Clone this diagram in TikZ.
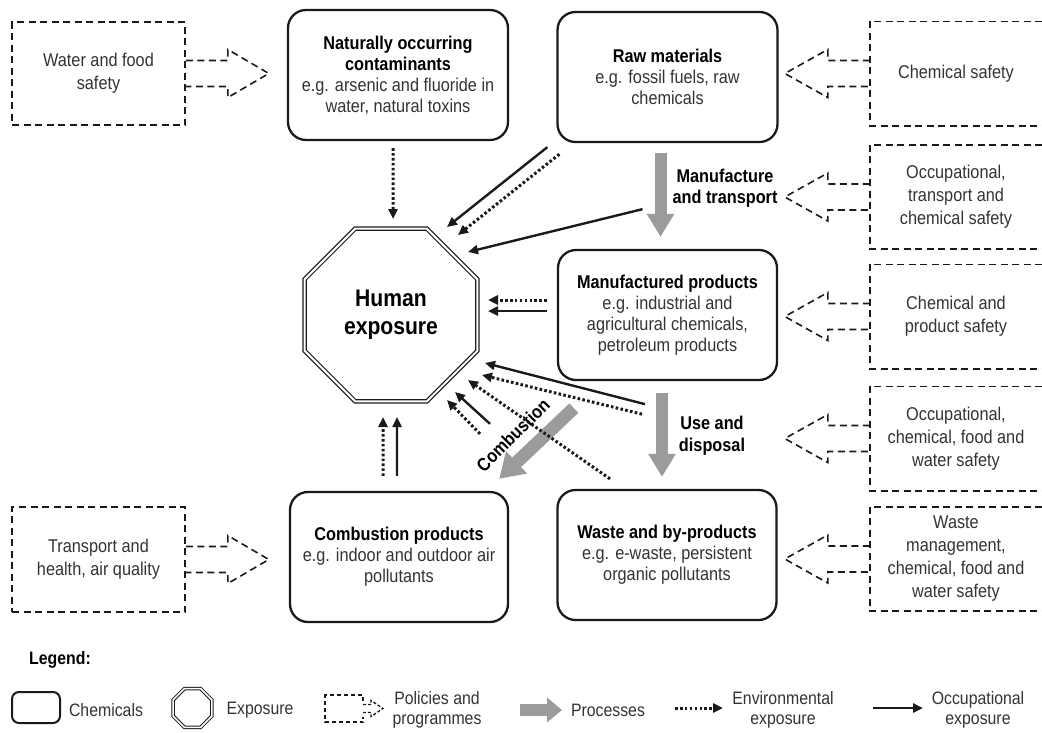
\documentclass[tikz,border=0pt]{standalone}
\usepackage{fontspec}
\setmainfont{Liberation Sans}[FakeStretch=0.88]
\usetikzlibrary{arrows.meta,shapes.geometric,calc}
\definecolor{procgray}{HTML}{9B9B9B}
\definecolor{txtgray}{HTML}{333333}
\definecolor{linek}{HTML}{1A1A1A}
\newcommand\bx[1]{{\color{black}\bfseries #1}}
\begin{document}
\begin{tikzpicture}[x=1pt,y=-1pt,
  chem/.style={draw=linek, line width=2.3pt, rounded corners=18pt, minimum width=220pt, minimum height=130pt, align=center, text=txtgray, font=\fontsize{18.5}{21}\selectfont, inner sep=2pt},
  poltext/.style={align=center, text=txtgray, font=\fontsize{18.5}{23}\selectfont, minimum width=172pt, minimum height=104pt, inner sep=0pt},
  poldash/.style={draw=linek, line width=1.6pt, dash pattern=on 7pt off 4.5pt},
  occ/.style={draw=linek, line width=2.4pt, -{Triangle[length=10pt,width=9pt]}},
  env/.style={draw=linek, line width=3pt, dash pattern=on 2.6pt off 2.3pt, -{Triangle[length=10pt,width=9pt]}},
  proc/.style={draw=procgray, line width=12pt, -{Triangle[length=23pt,width=26pt]}},
  lbl/.style={align=center, font=\fontsize{18.5}{21}\selectfont\bfseries, text=black},
  legtext/.style={align=center, text=txtgray, font=\fontsize{18}{20}\selectfont}
]
\useasboundingbox (0,0) rectangle (1042,732);

% chemical boxes
\node[chem] (nat) at (398,75) {\bx{Naturally occurring}\\\bx{contaminants}\\e.g. arsenic and fluoride in\\water, natural toxins};
\node[chem] (raw) at (667.5,77) {\bx{Raw materials}\\e.g. fossil fuels, raw\\chemicals};
\node[chem, minimum width=219pt] (man) at (667.5,315) {\bx{Manufactured products}\\e.g. industrial and\\agricultural chemicals,\\petroleum products};
\node[chem, minimum width=218pt] (comb) at (399,557) {\bx{Combustion products}\\e.g. indoor and outdoor air\\pollutants};
\node[chem, minimum width=219pt] (waste) at (667,555) {\bx{Waste and by-products}\\e.g. e-waste, persistent\\organic pollutants};

% exposure octagon
\node[draw=linek, double=white, double distance=2pt, line width=1.2pt, regular polygon, regular polygon sides=8, minimum size=187pt, inner sep=0pt, align=center, font=\fontsize{24}{28}\selectfont\bfseries] (he) at (391,315) {Human\\exposure};

% policy boxes left
\node[poltext, draw=linek, line width=1.6pt, dash pattern=on 7pt off 4.5pt, minimum width=173pt, minimum height=103pt] (p1) at (98.5,73.5) {Water and food\\safety};
\node[poltext, draw=linek, line width=1.6pt, dash pattern=on 7pt off 4.5pt, minimum width=173pt, minimum height=105pt] (p2) at (98.5,559.5) {Transport and\\health, air quality};

% policy boxes right (cut at right edge)
\node[poltext] (r1) at (956,73.5) {Chemical safety};
\node[poltext] (r2) at (956,197) {Occupational,\\transport and\\chemical safety};
\node[poltext] (r3) at (956,316.5) {Chemical and\\product safety};
\node[poltext] (r4) at (956,438.5) {Occupational,\\chemical, food and\\water safety};
\node[poltext] (r5) at (956,559) {Waste\\management,\\chemical, food and\\water safety};
\foreach \r in {r1,r2,r3,r4,r5}{
  \draw[poldash] (\r.north east) -- (\r.north west) -- (\r.south west) -- (\r.south east);
  \draw[poldash] ($(\r.west)+(0,-13)$) -- ++(-42,0) -- ++(0,-11) -- ++(-43,24) -- ++(43,24) -- ++(0,-11) -- ++(42,0);
}
\foreach \p in {p1,p2}{
  \draw[poldash] ($(\p.east)+(0,-13)$) -- ++(42,0) -- ++(0,-11) -- ++(41,24) -- ++(-41,24) -- ++(0,-11) -- ++(-42,0);
}

% process arrows
\draw[proc] ($(raw.south)+(-7,10)$) -- ($(man.north)+(-7,-12)$);
\draw[proc] ($(man.south)+(-5.5,12)$) -- ($(waste.north)+(-5,-12)$);
\draw[proc, line width=13pt, -{Triangle[length=24pt,width=29pt]}] ($(man.south west)+(17,27)$) -- ($(comb.north east)+(-10,-12)$);

\node[lbl] (lmt) at (725,188) {Manufacture\\and transport};
\node[lbl, font=\fontsize{18.5}{22}\selectfont\bfseries] (lud) at (712,436) {Use and\\disposal};
\node[lbl, rotate=45, inner sep=0pt] (lcb) at (513,435) {Combustion};

% exposure connectors
\draw[env] ($(nat.south)+(-5,7)$) -- ($(he.north)+(2,-9)$);
\draw[occ] ($(raw.south west)+(-9,4)$) -- ($(he.center)+(56,-88)$);
\draw[env] ($(raw.south west)+(3,11)$) -- ($(he.center)+(67,-80)$);
\draw[occ] ($(raw.south)+(-25,66)$) -- ($(he.center)+(77,-63)$);
\draw[env] ($(man.west)+(-10,-15)$) -- ($(he.center)+(97,-15)$);
\draw[occ] ($(man.west)+(-10,-4)$) -- ($(he.center)+(97,-4)$);
\draw[occ] ($(man.south)+(-22.5,23)$) -- ($(he.center)+(94,48)$);
\draw[env] ($(man.south)+(-25.5,33)$) -- ($(he.center)+(91,60)$);
\draw[env] ($(waste.north)+(-57,-10)$) -- ($(he.center)+(77,65)$);
\draw[occ] ($(comb.north)+(91,-67)$) -- ($(he.center)+(64,77)$);
\draw[env] ($(comb.north)+(81,-57)$) -- ($(he.center)+(56,85)$);
\draw[env] ($(comb.north)+(-16,-15)$) -- ($(he.south)+(-8,15)$);
\draw[occ] ($(comb.north)+(-2,-15)$) -- ($(he.south)+(6,15)$);

% legend
\node[font=\fontsize{18}{20}\selectfont\bfseries, text=black] (leg) at (60,660) {Legend:};
\node[draw=linek, line width=2pt, rounded corners=7pt, minimum width=48pt, minimum height=31pt, inner sep=0pt] (lg1) at (36,707.5) {};
\node[legtext] (lt1) at (106,710) {Chemicals};
\node[draw=linek, double=white, double distance=1.6pt, line width=1pt, regular polygon, regular polygon sides=8, minimum size=42pt, inner sep=0pt] (lg2) at (192.5,708) {};
\node[legtext] (lt2) at (260,710) {Exposure};
\coordinate (lg3) at (344,708.5);
\draw[linek, line width=1.3pt, dash pattern=on 4pt off 3pt] ($(lg3)+(19,-8)$) -- ++(0,-5.5) -- ++(-38,0) -- ++(0,27) -- ++(38,0) -- ++(0,-5.5);
\draw[linek, line width=1.3pt, dash pattern=on 3pt off 2pt] ($(lg3)+(19,-4)$) -- ++(8,0) -- ++(0,-4) -- ++(12,8) -- ++(-12,8) -- ++(0,-4) -- ++(-8,0);
\node[legtext] (lt3) at (437,710) {Policies and\\programmes};
\coordinate (lg4a) at (520,710);
\coordinate (lg4b) at (562,710);
\draw[proc, -{Triangle[length=15pt,width=24pt]}] (lg4a) -- (lg4b);
\node[legtext] (lt4) at (608,710) {Processes};
\coordinate (lg5a) at (675,708);
\coordinate (lg5b) at (723,708);
\draw[env] (lg5a) -- (lg5b);
\node[legtext] (lt5) at (783,710) {Environmental\\exposure};
\coordinate (lg6a) at (873,708);
\coordinate (lg6b) at (923,708);
\draw[occ] (lg6a) -- (lg6b);
\node[legtext] (lt6) at (978,710) {Occupational\\exposure};
\end{tikzpicture}
\end{document}
